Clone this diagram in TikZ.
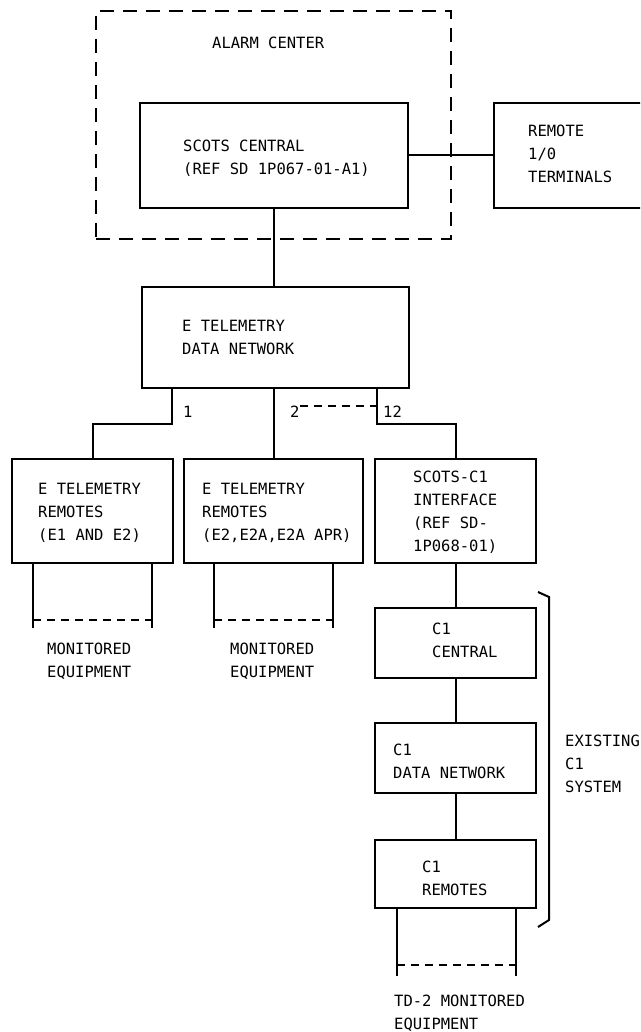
\documentclass[tikz,border=0pt]{standalone}
\usepackage{fontspec}
\setmonofont{DejaVu Sans Mono}
\usetikzlibrary{calc}
\newcommand\txtl[1]{\begin{tabular}[t]{@{}l@{}}#1\end{tabular}}
\begin{document}
\begin{tikzpicture}[x=1pt,y=-1pt,
  box/.style={draw,line width=2pt,rectangle,inner sep=0pt},
  lbl/.style={anchor=base west,inner sep=0pt,font=\ttfamily\fontsize{15.5}{23}\selectfont},
  wire/.style={line width=2pt},
  bigdash/.style={line width=2pt,dash pattern=on 14pt off 9pt},
  smalldash/.style={line width=1.8pt,dash pattern=on 8pt off 6pt}]
\path[use as bounding box,clip] (0,0) rectangle (640,1032);
\fill[white] (0,0) rectangle (640,1032);

% boxes
\node[box,bigdash,minimum width=355pt,minimum height=228pt] (alarm) at (273.5,125) {};
\node[box,minimum width=268pt,minimum height=105pt] (scots) at (274,155.5) {};
\node[box,minimum width=186pt,minimum height=105pt] (remote) at (587,155.5) {};
\node[box,minimum width=267pt,minimum height=101pt] (dnet) at (275.5,337.5) {};
\node[box,minimum width=161pt,minimum height=104pt] (box1) at (92.5,511) {};
\node[box,minimum width=179pt,minimum height=104pt] (box2) at (273.5,511) {};
\node[box,minimum width=161pt,minimum height=104pt] (box3) at (455.5,511) {};
\node[box,minimum width=161pt,minimum height=70pt] (c1c) at (455.5,643) {};
\node[box,minimum width=161pt,minimum height=70pt] (c1d) at (455.5,758) {};
\node[box,minimum width=161pt,minimum height=68pt] (c1r) at (455.5,874) {};

% texts
\node[lbl] (talarm) at (212,49) {ALARM CENTER};
\node[lbl] (tscots) at (183,152) {\txtl{SCOTS CENTRAL\\(REF SD 1P067-01-A1)}};
\node[lbl] (tremote) at (528,137) {\txtl{REMOTE\\1/0\\TERMINALS}};
\node[lbl] (tdnet) at (182,331) {\txtl{E TELEMETRY\\DATA NETWORK}};
\node[lbl] (tbox1) at (38,494) {\txtl{E TELEMETRY\\REMOTES\\(E1 AND E2)}};
\node[lbl] (tbox2) at (202,494) {\txtl{E TELEMETRY\\REMOTES\\(E2,E2A,E2A APR)}};
\node[lbl] (tbox3) at (413,482) {\txtl{SCOTS-C1\\INTERFACE\\(REF SD-\\1P068-01)}};
\node[lbl] (tc1c) at (432,634) {\txtl{C1\\CENTRAL}};
\node[lbl] (tc1d) at (393,755) {\txtl{C1\\DATA NETWORK}};
\node[lbl] (tc1r) at (422,872) {\txtl{C1\\REMOTES}};
\node[lbl] (texist) at (565,746) {\txtl{EXISTING\\C1\\SYSTEM}};
\node[lbl] (tmon1) at (47,654) {\txtl{MONITORED\\EQUIPMENT}};
\node[lbl] (tmon2) at (230,654) {\txtl{MONITORED\\EQUIPMENT}};
\node[lbl] (tmon3) at (394,1006) {\txtl{TD-2 MONITORED\\EQUIPMENT}};
\node[lbl] (l1) at (183,417) {1};
\node[lbl] (l2) at (290,417) {2};
\node[lbl] (l12) at (383,417) {12};

% connectors
\draw[wire] (scots.east) -- (remote.west);
\draw[wire] (scots.south) -- (scots.south |- dnet.north);
\coordinate (b1) at (172,424);
\coordinate (b12) at (377,424);
\draw[wire] (box1.north) |- (b1) -- (b1 |- dnet.south);
\draw[wire] (box2.north) -- (box2.north |- dnet.south);
\draw[wire] (box3.north) |- (b12) -- (b12 |- dnet.south);
\coordinate (d2) at (300,406);
\draw[smalldash] (d2) -- (d2 -| b12);
\draw[wire] (box3.south) -- (c1c.north);
\draw[wire] (c1c.south) -- (c1d.north);
\draw[wire] (c1d.south) -- (c1r.north);

% monitored equipment lines
\coordinate (m1a) at (33,628); \coordinate (m1b) at (152,628);
\coordinate (m2a) at (214,628); \coordinate (m2b) at (333,628);
\coordinate (m3a) at (397,976); \coordinate (m3b) at (516,976);
\draw[wire] (m1a |- box1.south) -- (m1a);
\draw[wire] (m1b |- box1.south) -- (m1b);
\draw[smalldash] ($(m1a)+(0,-8)$) -- ($(m1b)+(0,-8)$);
\draw[wire] (m2a |- box2.south) -- (m2a);
\draw[wire] (m2b |- box2.south) -- (m2b);
\draw[smalldash] ($(m2a)+(0,-8)$) -- ($(m2b)+(0,-8)$);
\draw[wire] (m3a |- c1r.south) -- (m3a);
\draw[wire] (m3b |- c1r.south) -- (m3b);
\draw[smalldash] ($(m3a)+(0,-11)$) -- ($(m3b)+(0,-11)$);

% brace
\draw[wire] (538,592) -- (549,597) -- (549,920) -- (538,927);
\end{tikzpicture}
\end{document}
